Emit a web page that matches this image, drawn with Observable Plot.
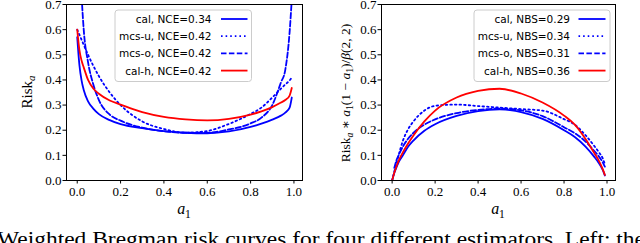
<!DOCTYPE html>
<html><head><meta charset="utf-8">
<script src="https://cdn.jsdelivr.net/npm/d3@7"></script>
<script src="https://cdn.jsdelivr.net/npm/@observablehq/plot@0.6"></script>
<style>
html,body{margin:0;padding:0;background:#fff;overflow:hidden}
#fig{position:relative;width:640px;height:243px;overflow:hidden}
.panel{position:absolute;top:0}
</style></head><body><div id="fig"></div>
<script>
// ---- data ----
const a1 = [0, 0.01, 0.02, 0.03, 0.05, 0.075, 0.1, 0.15, 0.2, 0.3, 0.4, 0.5, 0.6, 0.7, 0.8, 0.85, 0.9, 0.94, 0.96, 0.98, 0.99];

// left panel: Risk_a
const riskCal  = [0.57, 0.46, 0.398, 0.36, 0.315, 0.285, 0.264, 0.24, 0.224, 0.208, 0.196, 0.19, 0.188, 0.195, 0.213, 0.226, 0.242, 0.258, 0.27, 0.29, 0.33];
const riskMcsU = [0.6, 0.58, 0.56, 0.54, 0.5, 0.455, 0.415, 0.35, 0.3, 0.235, 0.205, 0.19, 0.197, 0.225, 0.265, 0.29, 0.33, 0.365, 0.382, 0.398, 0.41];
const riskMcsO = [null, 0.95, 0.74, 0.6, 0.47, 0.38, 0.32, 0.262, 0.238, 0.21, 0.196, 0.19, 0.19, 0.203, 0.227, 0.25, 0.3, 0.39, 0.44, 0.59, 0.72];
const riskCalH = [0.6, 0.52, 0.477, 0.45, 0.4, 0.365, 0.345, 0.318, 0.302, 0.272, 0.253, 0.243, 0.239, 0.245, 0.262, 0.275, 0.292, 0.31, 0.32, 0.338, 0.368];

// right panel: Risk_a * a1(1-a1)/beta(2,2)
const wCal  = [0, 0.03, 0.052, 0.072, 0.1, 0.135, 0.16, 0.198, 0.224, 0.257, 0.276, 0.283, 0.272, 0.245, 0.2, 0.173, 0.135, 0.095, 0.072, 0.042, 0.02];
const wMcsU = [0, 0.036, 0.068, 0.1, 0.158, 0.205, 0.236, 0.278, 0.297, 0.302, 0.296, 0.29, 0.284, 0.278, 0.244, 0.222, 0.18, 0.138, 0.115, 0.088, 0.065];
const wMcsO = [null, 0.05, 0.08, 0.1, 0.135, 0.167, 0.19, 0.222, 0.243, 0.268, 0.281, 0.286, 0.279, 0.256, 0.212, 0.188, 0.155, 0.118, 0.098, 0.072, 0.055];
const wCalH = [0, 0.031, 0.056, 0.078, 0.112, 0.148, 0.18, 0.235, 0.278, 0.33, 0.356, 0.365, 0.346, 0.31, 0.258, 0.222, 0.165, 0.11, 0.082, 0.045, 0.022];

const names = ["cal", "mcs-u", "mcs-o", "cal-h"];
const nce = [0.34, 0.42, 0.42, 0.42];
const nbs = [0.29, 0.34, 0.31, 0.36];
const xTicks = [0, 0.2, 0.4, 0.6, 0.8, 1.0];
const yTicks = [0, 0.1, 0.2, 0.3, 0.4, 0.5, 0.6, 0.7];

const styles = [
  {stroke: "#0000ff", dash: null},
  {stroke: "#0000ff", dash: "1.6,3"},
  {stroke: "#0000ff", dash: "5.5,2.4"},
  {stroke: "#ff0000", dash: null}
];
const serif = "'Liberation Serif', 'DejaVu Serif', serif";
const sans = "'DejaVu Sans', sans-serif";

function panel(seriesList, mLeft, mRight, legendLabels, legendBox) {
  const marks = seriesList.map((vals, k) =>
    Plot.line(a1.map((x, i) => ({x, y: vals[i]})), {
      x: "x", y: "y", stroke: styles[k].stroke, strokeWidth: 1.8,
      strokeDasharray: styles[k].dash || undefined, curve: "monotone-x", clip: true
    })
  );
  const svg = Plot.plot({
    width: 320, height: 243,
    marginLeft: mLeft, marginRight: mRight, marginTop: 4, marginBottom: 63,
    style: {background: "transparent", overflow: "visible"},
    x: {domain: [-0.0495, 1.0395]},
    y: {domain: [0, 0.7]},
    marks: [
      ...marks,
      Plot.frame({stroke: "black", strokeWidth: 1}),
      Plot.axisX({ticks: xTicks, tickFormat: d3.format(".1f"), tickSize: 3.5, tickPadding: 3,
        fontSize: 13, label: null, stroke: "black"}),
      Plot.axisY({ticks: yTicks, tickFormat: d3.format(".1f"), tickSize: 3.5, tickPadding: 1.5,
        fontSize: 13, label: null, stroke: "black"})
    ]
  });
  d3.select(svg).selectAll("text").style("font-family", serif).style("font-size", "13px").attr("fill", "black");
  // legend
  const g = d3.select(svg).append("g");
  g.append("rect").attr("x", legendBox.x).attr("y", 10).attr("width", legendBox.w).attr("height", 71.5)
    .attr("rx", 3).attr("fill", "white").attr("fill-opacity", 0.85).attr("stroke", "#cccccc").attr("stroke-width", 1);
  legendLabels.forEach((lab, k) => {
    const y = 19 + k * 17.2;
    g.append("text").attr("x", legendBox.textEnd).attr("y", y).attr("text-anchor", "end")
      .attr("dominant-baseline", "central").style("font-family", sans).style("font-size", "10.5px")
      .attr("fill", "black").text(lab);
    g.append("line").attr("x1", legendBox.lx1).attr("x2", legendBox.lx2).attr("y1", y).attr("y2", y)
      .attr("stroke", styles[k].stroke).attr("stroke-width", 1.8)
      .attr("stroke-dasharray", styles[k].dash);
  });
  return svg;
}

function addText(svg, x, y, rotate, size, parts) {
  const t = d3.select(svg).append("text")
    .attr("transform", `translate(${x},${y})` + (rotate ? ` rotate(${rotate})` : ""))
    .attr("text-anchor", "middle").style("font-family", serif).style("font-size", size + "px").attr("fill", "black");
  parts.forEach(p => {
    const s = t.append("tspan").text(p.t);
    if (p.i) s.style("font-style", "italic");
    if (p.sub) s.style("font-size", (size * 0.72) + "px").attr("dy", size * 0.22);
    if (p.up) s.attr("dy", -size * 0.22);
  });
}

const fig = document.getElementById("fig");

const left = panel([riskCal, riskMcsU, riskMcsO, riskCalH], 66, 18,
  names.map((n, k) => `${n}, NCE=${nce[k].toFixed(2)}`),
  {x: 115, w: 136.5, textEnd: 211.5, lx1: 221, lx2: 247.5});
left.classList.add("panel"); left.style.left = "0px";
addText(left, 32, 92, -90, 15, [{t: "Risk"}, {t: "a", i: true, sub: true}]);
addText(left, 184, 214, 0, 16, [{t: "a", i: true}, {t: "1", sub: true}]);
fig.appendChild(left);

const right = panel([wCal, wMcsU, wMcsO, wCalH], 61, 25,
  names.map((n, k) => `${n}, NBS=${nbs[k].toFixed(2)}`),
  {x: 154, w: 136, textEnd: 250, lx1: 258.5, lx2: 285.5});
right.classList.add("panel"); right.style.left = "320px";
addText(right, 30, 93, -90, 13.5, [
  {t: "Risk"}, {t: "a", i: true, sub: true}, {t: " ∗ ", up: true},
  {t: "a", i: true}, {t: "1", sub: true}, {t: "(1 − ", up: true},
  {t: "a", i: true}, {t: "1", sub: true}, {t: ")/", up: true},
  {t: "β", i: true}, {t: "(2, 2)"}
]);
addText(right, 178, 214, 0, 16, [{t: "a", i: true}, {t: "1", sub: true}]);
fig.appendChild(right);

// caption (cut off by the bottom edge, as in the reference)
const cap = d3.select(fig).append("svg").attr("width", 640).attr("height", 243)
  .style("position", "absolute").style("left", "0px").style("top", "0px").style("pointer-events", "none");
cap.append("text").attr("x", -3).attr("y", 246).style("font-family", serif).style("font-size", "20px")
  .attr("textLength", 648).attr("lengthAdjust", "spacingAndGlyphs").attr("fill", "black")
  .text("Weighted Bregman risk curves for four different estimators. Left: the");
</script></body></html>
